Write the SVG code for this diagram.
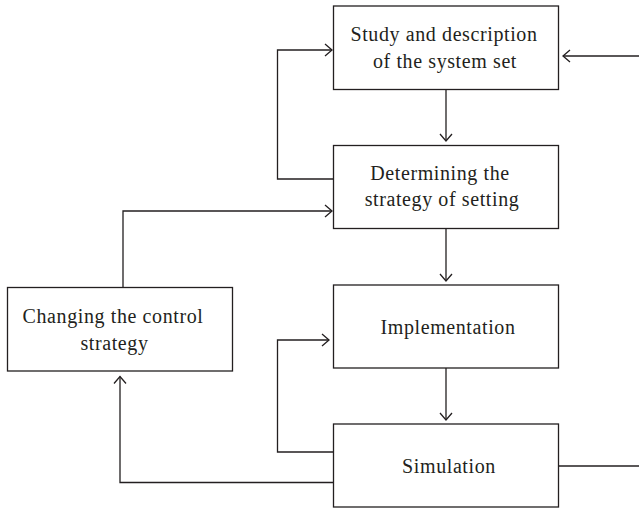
<svg xmlns="http://www.w3.org/2000/svg" width="639" height="511" viewBox="0 0 639 511">
<style>
.box{fill:#fff;stroke:#231f20;stroke-width:1.3}
.lbl{font-family:"Liberation Serif","Times New Roman",serif;font-size:20px;letter-spacing:0.6px;fill:#231f20;text-anchor:middle}
.con{fill:none;stroke:#231f20;stroke-width:1.3}
</style>
<defs>
<marker id="arr" markerUnits="userSpaceOnUse" viewBox="-9 -8 11 16" refX="0" refY="0" markerWidth="11" markerHeight="16" orient="auto" overflow="visible">
<path d="M-7,-6 L0,0 L-7,6" fill="none" stroke="#231f20" stroke-width="1.3"/>
</marker>
</defs>
<g id="connectors">
<path class="con" d="M446,89.5 V141" marker-end="url(#arr)"/>
<path class="con" d="M446,228.5 V281" marker-end="url(#arr)"/>
<path class="con" d="M446,368 V420" marker-end="url(#arr)"/>
<path class="con" d="M639,56 H563" marker-end="url(#arr)"/>
<path class="con" d="M333.5,179 H277.5 V50 H332" marker-end="url(#arr)"/>
<path class="con" d="M123,287.5 V211 H332" marker-end="url(#arr)"/>
<path class="con" d="M333.5,452 H277.5 V340 H329" marker-end="url(#arr)"/>
<path class="con" d="M333.5,482.5 H120 V376.5" marker-end="url(#arr)"/>
<path class="con" d="M558.5,466 H639"/>
</g>
<g id="study">
<rect class="box" x="333.5" y="6" width="225" height="83.5"/>
<text class="lbl" x="444" y="41">Study and description</text>
<text class="lbl" x="445" y="68">of the system set</text>
</g>
<g id="determining">
<rect class="box" x="333.5" y="145.5" width="225" height="83"/>
<text class="lbl" x="440" y="180">Determining the</text>
<text class="lbl" x="442" y="206">strategy of setting</text>
</g>
<g id="implementation">
<rect class="box" x="333.5" y="285" width="225" height="83"/>
<text class="lbl" x="448" y="334">Implementation</text>
</g>
<g id="simulation">
<rect class="box" x="333.5" y="424" width="225" height="83"/>
<text class="lbl" x="449" y="472.5">Simulation</text>
</g>
<g id="changing">
<rect class="box" x="7.5" y="287.5" width="225" height="83.5"/>
<text class="lbl" x="113" y="323">Changing the control</text>
<text class="lbl" x="114.5" y="350">strategy</text>
</g>
</svg>
